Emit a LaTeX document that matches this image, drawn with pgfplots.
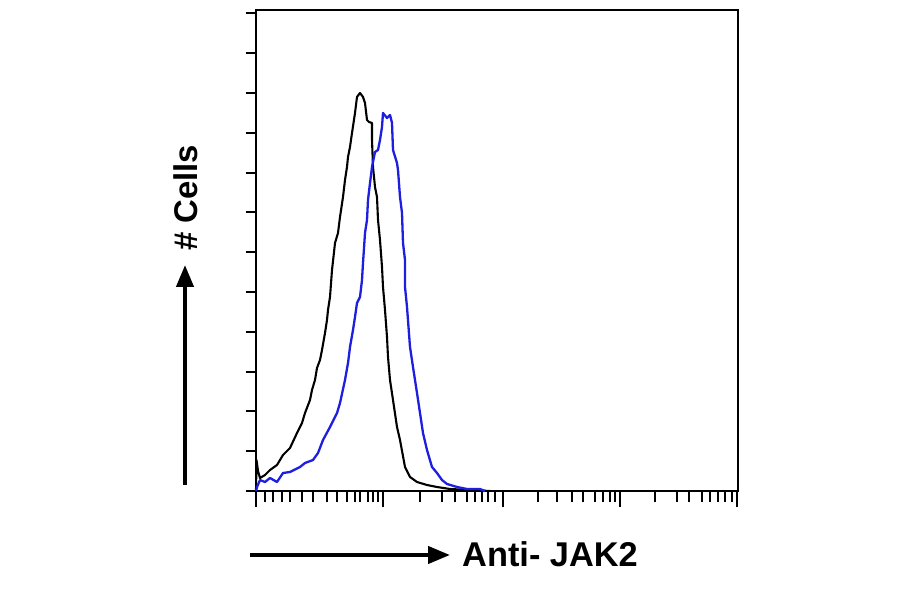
\documentclass[border=0pt]{standalone}
\usepackage{pgfplots}
\pgfplotsset{compat=1.18}
\usepackage{fontspec}
\setmainfont{Liberation Sans}
\usetikzlibrary{arrows.meta}
\definecolor{fblue}{RGB}{30,30,225}
\begin{document}
\begin{tikzpicture}
\useasboundingbox (0,0) rectangle (900bp,594bp);
\begin{axis}[
  at={(256bp,103bp)}, anchor=south west,
  scale only axis, width=482bp, height=481bp,
  xmin=256, xmax=738, ymin=0, ymax=481,
  axis line style={line width=2.2bp},
  tick style={line width=2bp, black},
  tick align=outside,
  xtick pos=bottom, ytick pos=left,
  xtick={265,273,282,290,302,313,327,337,347,355,360,368,373,378,
         420,442,455,467,475,482,488,495,
         538,557,572,583,595,603,610,615,
         655,677,689,702,710,718,725,732},
  extra x ticks={256,383,503,620,737},
  extra x tick style={major tick length=16bp},
  extra x tick labels={},
  major tick length=10.5bp,
  ytick={0,39.8,79.6,119.4,159.2,199,238.8,278.6,318.4,358.2,398,437.8,477.6},
  xticklabels={}, yticklabels={},
  clip=false,
]
\addplot[black, line width=2.1bp, line join=round] coordinates {
(256,0) (256.5,31) (258,20) (260,13) (265,16) (270,21) (277,26) (283,36) (290,43) (297,58) (302,68) (305,78) (310,91) (312,101) (315,111) (317,123) (320,131) (322,141) (325,158) (327,171) (328,181) (330,194) (332,221) (335,248) (338,258) (340,274) (343,294) (345,311) (347,324) (348,334) (350,344) (352,358) (355,378) (357,394) (360,398) (363,394) (365,388) (367,371) (369,369) (372,368) (372,351) (373,324) (375,304) (377,294) (378,271) (380,251) (382,224) (383,204) (385,181) (387,154) (388,134) (390,111) (393,91) (397,64) (400,51) (405,24) (410,14) (417,9) (427,6) (437,4) (450,2) (470,1) (490,0)
};
\addplot[fblue, line width=2.3bp, line join=round] coordinates {
(256,0) (257,4) (260,11) (265,9) (270,13) (277,9) (283,18) (290,19) (300,24) (305,28) (313,31) (318,38) (323,51) (330,64) (337,78) (340,88) (345,111) (348,128) (350,144) (353,161) (355,174) (357,188) (360,194) (362,211) (363,228) (365,258) (367,271) (368,291) (370,308) (372,324) (375,339) (378,341) (380,351) (382,364) (383,378) (387,373) (390,376) (392,368) (393,341) (397,328) (398,321) (400,294) (402,278) (403,248) (405,231) (405,204) (407,184) (410,144) (413,124) (417,98) (420,78) (423,58) (427,41) (432,24) (437,18) (442,11) (447,7) (457,4) (467,2) (480,2) (485,0)
};
\end{axis}
% y arrow and label
\draw[line width=4.2bp, -{Triangle[width=17bp,length=22bp]}] (185bp,109bp) -- (185bp,329bp);
\node[rotate=90, font=\fontsize{33}{38}\selectfont\bfseries] at (186bp,396bp) {\# Cells};
% x arrow and label
\draw[line width=4.2bp, -{Triangle[width=17bp,length=22bp]}] (250bp,39bp) -- (450bp,39bp);
\node[anchor=west, inner sep=0pt, font=\fontsize{34.5}{40}\selectfont\bfseries] at (462bp,40bp) {Anti- JAK2};
\end{tikzpicture}
\end{document}
